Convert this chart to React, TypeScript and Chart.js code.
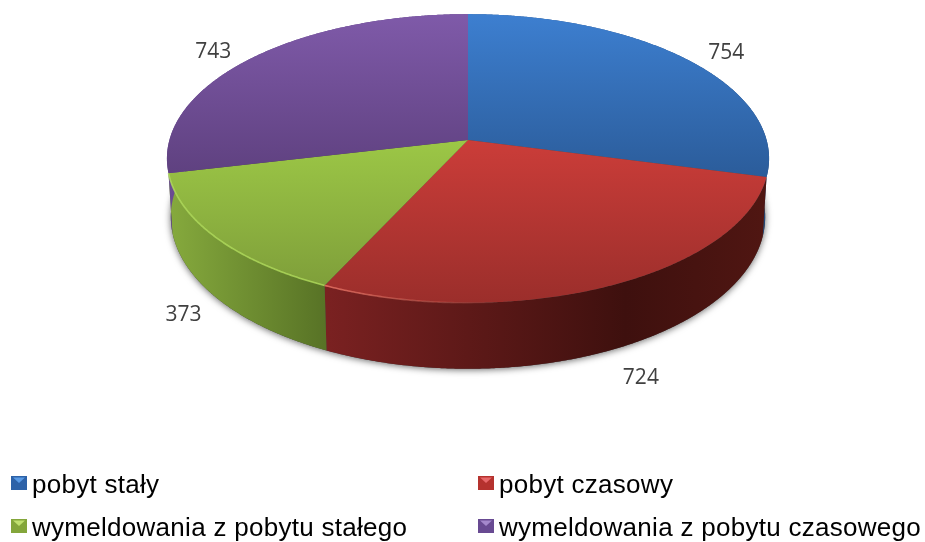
import React, { useEffect, useRef } from "react";
import { Chart, registerables } from "chart.js";

Chart.register(...registerables);

const categories = ["pobyt stały", "pobyt czasowy", "wymeldowania z pobytu stałego", "wymeldowania z pobytu czasowego"];
const values = [754, 724, 373, 743];

// top-face vertical gradient colours
const faceTop = ["#3d7fd0", "#cb3d39", "#9cc746", "#7f5aa9"];
const faceBottom = ["#2b5c9a", "#9b2e2b", "#7f9f3a", "#5f4180"];
// wall horizontal gradient stops
const wallStops = [
  ["#2f5a92", "#24487a"],
  ["#7a2121", "#3e100e", "#501612"],
  ["#86aa3d", "#587326"],
  ["#6a4c92", "#54397a"],
];
// legend key colours
const keyBody = ["#2d62a8", "#b5322e", "#84a63b", "#684a92"];
const keyLight = ["#5a9be6", "#e8686a", "#c0e070", "#a488cc"];
// label offset from the rim point at mid-angle
const labelOffsets = [
  [39, -6],
  [29.5, 92.6],
  [-32, 78],
  [-38, -6],
];
const legendCols = [11, 478];
const legendRows = [476, 519];

const CX = 468, CY = 140, A = 298.6, B = 142, K = 0.128, DEPTH = 57.5, SHRINK = 0.987;

function top(t: number) {
  const u = Math.sin(t), v = -Math.cos(t), w = 1 - K * v;
  return [CX + (A * u) / w, CY + (B * v) / w, w];
}
function bot(t: number) {
  const u = Math.sin(t), v = -Math.cos(t), w = 1 - K * v;
  return [CX + (SHRINK * A * u) / w, CY + (B * v) / w + DEPTH / w];
}
function samples(a: number, b: number) {
  const n = Math.max(2, Math.ceil((b - a) / 0.006));
  const r: number[] = [];
  for (let i = 0; i <= n; i++) r.push(a + ((b - a) * i) / n);
  return r;
}

const pie3d = {
  id: "pie3d",
  beforeDatasetsDraw(chart: any) {
    const ctx: CanvasRenderingContext2D = chart.ctx;
    const arcs = chart.getDatasetMeta(0).data;
    const ang = arcs.map((e: any) => [e.startAngle + Math.PI / 2, e.endAngle + Math.PI / 2]);

    // soft shadow under the whole drum
    ctx.save();
    ctx.shadowColor = "rgba(0,0,0,0.6)";
    ctx.shadowBlur = 7;
    ctx.shadowOffsetX = 0;
    ctx.shadowOffsetY = 1;
    ctx.fillStyle = "#444";
    ctx.beginPath();
    samples(0, Math.PI * 2).forEach((t, i) => {
      const p = bot(t);
      i ? ctx.lineTo(p[0], p[1]) : ctx.moveTo(p[0], p[1]);
    });
    ctx.closePath();
    ctx.fill();
    ctx.restore();

    // walls
    ang.forEach(([a, b]: number[], i: number) => {
      const ss = samples(a, b);
      const pts = ss.map(top);
      const xs = pts.map((p) => p[0]);
      let x0 = Math.min(...xs), x1 = Math.max(...xs);
      if (i === 1) { x0 = 327; x1 = 766; }
      const g = ctx.createLinearGradient(x0, 0, x1, 0);
      const st = wallStops[i];
      if (st.length === 3) {
        g.addColorStop(0, st[0]);
        g.addColorStop(0.68, st[1]);
        g.addColorStop(1, st[2]);
      } else {
        g.addColorStop(0, st[0]);
        g.addColorStop(1, st[1]);
      }
      ctx.fillStyle = g;
      ctx.beginPath();
      pts.forEach((p, j) => (j ? ctx.lineTo(p[0], p[1]) : ctx.moveTo(p[0], p[1])));
      ss.slice().reverse().forEach((t) => {
        const p = bot(t);
        ctx.lineTo(p[0], p[1]);
      });
      ctx.closePath();
      ctx.fill();
    });

    // top faces
    ang.forEach(([a, b]: number[], i: number) => {
      const pts = samples(a, b).map(top);
      const ys = pts.map((p) => p[1]).concat([CY]);
      const g = ctx.createLinearGradient(0, Math.min(...ys), 0, Math.max(...ys));
      g.addColorStop(0, faceTop[i]);
      g.addColorStop(1, faceBottom[i]);
      ctx.fillStyle = g;
      ctx.beginPath();
      ctx.moveTo(CX, CY);
      pts.forEach((p) => ctx.lineTo(p[0], p[1]));
      ctx.closePath();
      ctx.fill();
    });

    // light bevel along the front rim of green and red
    const rim = (i: number, c0: string, c1: string, x0: number, x1: number) => {
      const pts = samples(ang[i][0], ang[i][1]).map(top);
      const g = ctx.createLinearGradient(x0, 0, x1, 0);
      g.addColorStop(0, c0);
      g.addColorStop(1, c1);
      ctx.strokeStyle = g;
      ctx.lineWidth = 1.6;
      ctx.beginPath();
      pts.forEach((p, j) => (j ? ctx.lineTo(p[0], p[1]) : ctx.moveTo(p[0], p[1])));
      ctx.stroke();
    };
    rim(2, "rgba(178,222,92,0.8)", "rgba(178,222,92,0.8)", 170, 327);
    rim(1, "rgba(226,110,96,0)", "rgba(226,110,96,0.9)", 500, 327);

    // value labels
    ctx.font = "21px 'Open Sans'";
    ctx.fillStyle = "#404040";
    ctx.textAlign = "center";
    ctx.textBaseline = "middle";
    ang.forEach(([a, b]: number[], i: number) => {
      const p = top((a + b) / 2);
      ctx.fillText(String(values[i]), p[0] + labelOffsets[i][0], p[1] + labelOffsets[i][1]);
    });

    // legend
    categories.forEach((label, i) => {
      const x = legendCols[i % 2], y = legendRows[Math.floor(i / 2)];
      const w = 16, h = 14;
      ctx.fillStyle = keyBody[i];
      ctx.fillRect(x, y, w, h);
      ctx.fillStyle = keyLight[i];
      ctx.beginPath();
      ctx.moveTo(x + 2, y + 1.5);
      ctx.lineTo(x + w - 2, y + 1.5);
      ctx.lineTo(x + w / 2, y + h * 0.5);
      ctx.closePath();
      ctx.fill();
      ctx.font = "26px 'Liberation Sans'";
      (ctx as any).letterSpacing = "0.28px";
      ctx.fillStyle = "#000";
      ctx.textAlign = "left";
      ctx.textBaseline = "alphabetic";
      ctx.fillText(label, x + 21, y + 17);
      (ctx as any).letterSpacing = "0px";
    });
    return false;
  },
};

export default function App() {
  const ref = useRef<HTMLCanvasElement>(null);
  useEffect(() => {
    document.body.style.margin = "0";
    const chart = new Chart(ref.current!, {
      type: "pie",
      data: { labels: categories, datasets: [{ data: values, backgroundColor: faceTop, borderWidth: 0 }] },
      options: {
        responsive: false,
        animation: false,
        plugins: { legend: { display: false }, tooltip: { enabled: false } },
      },
      plugins: [pie3d],
    } as any);
    return () => chart.destroy();
  }, []);
  return <canvas ref={ref} width={925} height={542} style={{ display: "block" }} />;
}
